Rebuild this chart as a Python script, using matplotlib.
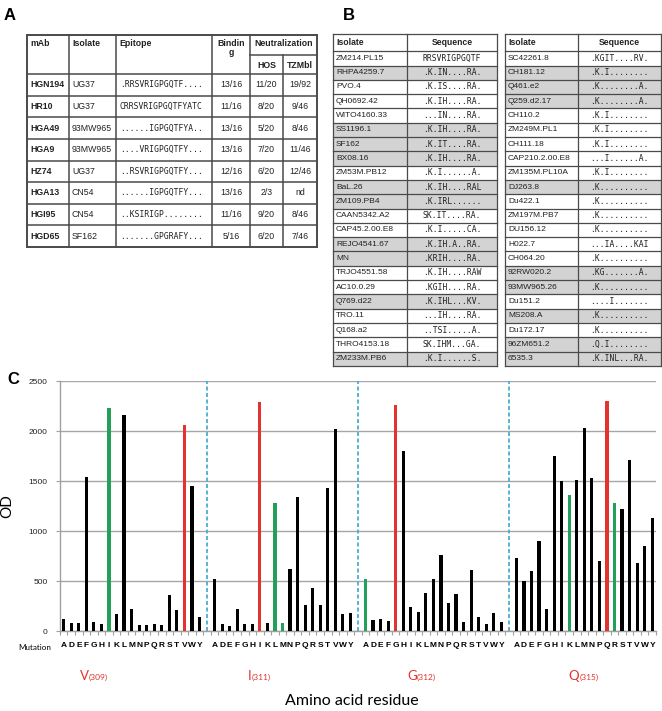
import matplotlib
matplotlib.use('Agg')
import matplotlib.pyplot as plt
from matplotlib.patches import Rectangle
import numpy as np

# ---------------- data: panel A ----------------
mabs = ['HGN194', 'HR10', 'HGA49', 'HGA9', 'HZ74', 'HGA13', 'HGI95', 'HGD65']
isolates_A = ['UG37', 'UG37', '93MW965', '93MW965', 'UG37', 'CN54', 'CN54', 'SF162']
epitopes = ['.RRSVRIGPGQTF....', 'CRRSVRIGPGQTFYATC', '......IGPGQTFYA..',
            '....VRIGPGQTFY...', '..RSVRIGPGQTFY...', '......IGPGQTFY...',
            '..KSIRIGP........', '.......GPGRAFY...']
binding = ['13/16', '11/16', '13/16', '13/16', '12/16', '13/16', '11/16', '5/16']
hos = ['11/20', '8/20', '5/20', '7/20', '6/20', '2/3', '9/20', '6/20']
tzmbl = ['19/92', '9/46', '8/46', '11/46', '12/46', 'nd', '8/46', '7/46']

# ---------------- data: panel B ----------------
isolates_B1 = ['ZM214.PL15', 'RHPA4259.7', 'PVO.4', 'QH0692.42', 'WITO4160.33', 'SS1196.1',
               'SF162', 'BX08.16', 'ZM53M.PB12', 'BaL.26', 'ZM109.PB4', 'CAAN5342.A2',
               'CAP45.2.00.E8', 'REJO4541.67', 'MN', 'TRJO4551.58', 'AC10.0.29', 'Q769.d22',
               'TRO.11', 'Q168.a2', 'THRO4153.18', 'ZM233M.PB6']
seqs_B1 = ['RRSVRIGPGQTF', '.K.IN....RA.', '.K.IS....RA.', '.K.IH....RA.', '...IN....RA.',
           '.K.IH....RA.', '.K.IT....RA.', '.K.IH....RA.', '.K.I......A.', '.K.IH....RAL',
           '.K.IRL......', 'SK.IT....RA.', '.K.I.....CA.', '.K.IH.A..RA.', '.KRIH....RA.',
           '.K.IH....RAW', '.KGIH....RA.', '.K.IHL...KV.', '...IH....RA.', '..TSI.....A.',
           'SK.IHM...GA.', '.K.I......S.']
shaded_B1 = [0, 1, 0, 0, 0, 1, 1, 1, 0, 1, 1, 0, 0, 1, 1, 0, 0, 1, 0, 0, 0, 1]

isolates_B2 = ['SC42261.8', 'CH181.12', 'Q461.e2', 'Q259.d2.17', 'CH110.2', 'ZM249M.PL1',
               'CH111.18', 'CAP210.2.00.E8', 'ZM135M.PL10A', 'DJ263.8', 'Du422.1',
               'ZM197M.PB7', 'DU156.12', 'H022.7', 'CH064.20', '92RW020.2', '93MW965.26',
               'Du151.2', 'MS208.A', 'Du172.17', '96ZM651.2', '6535.3']
seqs_B2 = ['.KGIT....RV.', '.K.I........', '.K........A.', '.K........A.', '.K.I........',
           '.K.I........', '.K.I........', '...I......A.', '.K.I........', '.K..........',
           '.K..........', '.K..........', '.K..........', '...IA....KAI', '.K..........',
           '.KG.......A.', '.K..........', '....I.......', '.K..........', '.K..........',
           '.Q.I........', '.K.INL...RA.']
shaded_B2 = [0, 1, 1, 1, 0, 0, 0, 0, 0, 1, 0, 0, 0, 0, 0, 1, 1, 0, 1, 0, 1, 1]

# ---------------- data: panel C ----------------
mutations = ['A', 'D', 'E', 'F', 'G', 'H', 'I', 'K', 'L', 'M', 'N', 'P', 'Q', 'R', 'S', 'T', 'V', 'W', 'Y']
residues = ['V', 'I', 'G', 'Q']
positions = ['(309)', '(311)', '(312)', '(315)']
od_V309 = [120, 80, 87, 1542, 93, 73, 2235, 170, 2161, 226, 63, 63, 73, 63, 360, 213, 2061, 1452, 147]
od_I311 = [526, 70, 53, 223, 70, 70, 2294, 80, 1285, 87, 619, 1342, 263, 430, 263, 1432, 2025, 173, 186]
od_G312 = [523, 110, 123, 103, 2261, 1805, 243, 193, 386, 523, 759, 286, 370, 97, 609, 147, 77, 183, 90]
od_Q315 = [729, 503, 599, 899, 223, 1752, 1502, 1359, 1515, 2031, 1535, 699, 2298, 1279, 1225, 1715, 679, 853, 1132]
green_mutations = [['I'], ['L', 'M'], ['A'], ['K', 'R']]
od_groups = [od_V309, od_I311, od_G312, od_Q315]

# ---------------- figure ----------------
W, H = 662, 711
fig = plt.figure(figsize=(W / 100, H / 100), dpi=100)

SANS = ['Liberation Sans', 'DejaVu Sans']
MONO = ['DejaVu Sans Mono']
CAL = ['Lato', 'DejaVu Sans']
TXT = '#222222'

ov = fig.add_axes([0, 0, 1, 1], zorder=5)
ov.set_xlim(0, W)
ov.set_ylim(H, 0)
ov.axis('off')

LC = '#4a4a4a'

# panel labels
ov.text(4, 15, 'A', fontsize=12, fontweight='bold', family=SANS, va='center', ha='left')
ov.text(343, 16, 'B', fontsize=12, fontweight='bold', family=SANS, va='center', ha='left')
ov.text(7, 379, 'C', fontsize=12, fontweight='bold', family=SANS, va='center', ha='left')

# ---------- Table A ----------
tx0, tx1 = 27, 317
cols = [27, 69, 116, 212, 250, 283, 317]
ty0, thead, tsub = 35, 74, 55
rh = (247 - thead) / len(mabs)
ty1 = thead + rh * len(mabs)
fsA = 6.3
ov.plot([tx0, tx1], [ty0, ty0], color=LC, lw=1.4)
ov.plot([tx0, tx1], [ty1, ty1], color=LC, lw=1.4)
for i in range(len(mabs)):
    y = thead + rh * i
    ov.plot([tx0, tx1], [y, y], color=LC, lw=1.1)
ov.plot([cols[4], cols[6]], [tsub, tsub], color=LC, lw=1.1)
for j, c in enumerate(cols):
    top = tsub if j == 5 else ty0
    lw = 1.4 if j in (0, 6) else 1.1
    ov.plot([c, c], [top, ty1], color=LC, lw=lw)
hy = 43
ov.text(30, hy, 'mAb', fontsize=fsA, fontweight='bold', family=SANS, va='center', color=TXT)
ov.text(72, hy, 'Isolate', fontsize=fsA, fontweight='bold', family=SANS, va='center', color=TXT)
ov.text(119, hy, 'Epitope', fontsize=fsA, fontweight='bold', family=SANS, va='center', color=TXT)
ov.text((cols[3] + cols[4]) / 2, hy, 'Bindin', fontsize=fsA, fontweight='bold', family=SANS, va='center', ha='center', color=TXT)
ov.text((cols[3] + cols[4]) / 2, 52.5, 'g', fontsize=fsA, fontweight='bold', family=SANS, va='center', ha='center', color=TXT)
ov.text((cols[4] + cols[6]) / 2, hy, 'Neutralization', fontsize=fsA, fontweight='bold', family=SANS, va='center', ha='center', color=TXT)
ov.text((cols[4] + cols[5]) / 2, 65, 'HOS', fontsize=fsA, fontweight='bold', family=SANS, va='center', ha='center', color=TXT)
ov.text((cols[5] + cols[6]) / 2, 65, 'TZMbl', fontsize=fsA, fontweight='bold', family=SANS, va='center', ha='center', color=TXT)
for i in range(len(mabs)):
    y = thead + rh * (i + 0.5)
    ov.text(30, y, mabs[i], fontsize=fsA, fontweight='bold', family=SANS, va='center', color=TXT)
    ov.text(72, y, isolates_A[i], fontsize=fsA, family=SANS, va='center', color=TXT)
    ov.text(120, y, epitopes[i], fontsize=5.8, family=MONO, va='center', color=TXT)
    ov.text((cols[3] + cols[4]) / 2, y, binding[i], fontsize=fsA, family=SANS, va='center', ha='center', color=TXT)
    ov.text((cols[4] + cols[5]) / 2, y, hos[i], fontsize=fsA, family=SANS, va='center', ha='center', color=TXT)
    ov.text((cols[5] + cols[6]) / 2, y, tzmbl[i], fontsize=fsA, family=SANS, va='center', ha='center', color=TXT)

# ---------- Tables B ----------
def table_B(x0, xd, x1, names, seqs, shaded):
    top = 34.3
    hb = 51.2
    r = 14.3
    n = len(names)
    bot = hb + r * n
    for i in range(n):
        y = hb + r * i
        if shaded[i]:
            ov.add_patch(Rectangle((x0, y), x1 - x0, r, facecolor='#d3d3d3', edgecolor='none', zorder=1))
    for y in [top, hb] + [hb + r * (i + 1) for i in range(n)]:
        ov.plot([x0, x1], [y, y], color=LC, lw=0.9, zorder=2)
    for x in (x0, xd, x1):
        ov.plot([x, x], [top, bot], color=LC, lw=0.9, zorder=2)
    ov.text(x0 + 3, (top + hb) / 2, 'Isolate', fontsize=6.2, fontweight='bold', family=SANS, va='center', zorder=3, color=TXT)
    ov.text((xd + x1) / 2, (top + hb) / 2, 'Sequence', fontsize=6.2, fontweight='bold', family=SANS, va='center', ha='center', zorder=3, color=TXT)
    for i in range(n):
        y = hb + r * (i + 0.5)
        ov.text(x0 + 3, y, names[i], fontsize=6.0, family=SANS, va='center', zorder=3, color=TXT)
        ov.text((xd + x1) / 2, y, seqs[i], fontsize=5.8, family=MONO, va='center', ha='center', zorder=3, color=TXT)

table_B(333, 407, 497, isolates_B1, seqs_B1, shaded_B1)
table_B(505, 578, 661, isolates_B2, seqs_B2, shaded_B2)

# ---------- Panel C bar chart ----------
nmut = len(mutations)
x_left, x_right = 59.9, 656.0
y_zero, y_top = 631.3, 381.0
ax = fig.add_axes([x_left / W, (H - y_zero) / H, (x_right - x_left) / W, (y_zero - y_top) / H], zorder=2)
nslots = 4 * nmut + 3
ax.set_xlim(-0.5, nslots - 0.5)
ax.set_ylim(0, 2500)

for g, (res, vals) in enumerate(zip(residues, od_groups)):
    base = g * (nmut + 1)
    xs = base + np.arange(nmut)
    colors = []
    for m in mutations:
        if m == res:
            colors.append('#e3322f')
        elif m in green_mutations[g]:
            colors.append('#22a05a')
        else:
            colors.append('black')
    ax.bar(xs, vals, width=0.42, color=colors, zorder=3)
    for k, m in enumerate(mutations):
        ax.text(base + k, -0.058, m, transform=ax.get_xaxis_transform(), ha='center', va='center',
                fontsize=6.0, fontweight='bold', family=SANS)
    if g < 3:
        ax.axvline(base + nmut, color='#4aaed0', lw=1.3, ls=(0, (2.2, 1.4)), zorder=4)

ax.set_yticks(np.arange(0, 2501, 500))
ax.yaxis.grid(True, color='#a6a6a6', lw=1.0, zorder=0)
ax.set_axisbelow(True)
ax.set_xticks(np.arange(-0.5, nslots, 1.0))
ax.set_xticklabels([])
ax.tick_params(axis='x', length=3, width=0.8, color='#a0a0a0', direction='out')
ax.tick_params(axis='y', length=3, width=0.8, color='#a0a0a0', labelsize=6, pad=6, labelcolor=TXT)
for lab in ax.get_yticklabels():
    lab.set_family(SANS)
for s in ('top', 'right'):
    ax.spines[s].set_visible(False)
ax.spines['left'].set_color('#a0a0a0')
ax.spines['bottom'].set_color('#a0a0a0')
ax.spines['left'].set_linewidth(1.0)
ax.spines['bottom'].set_linewidth(1.0)
ax.set_ylabel('OD', fontsize=11, family=CAL, labelpad=10)

ov.text(18, 648, 'Mutation', fontsize=5.8, family=CAL, va='center', ha='left')
label_x = [80, 248, 407, 568]
sub_dx = [9, 4, 10, 12]
for g, res in enumerate(residues):
    ov.text(label_x[g], 679.5, res, fontsize=9.5, family=CAL, color='#e3322f', va='baseline', ha='left')
    ov.text(label_x[g] + sub_dx[g], 679.5, positions[g],
            fontsize=6.0, family=CAL, color='#e3322f', va='baseline', ha='left')
ov.text(352, 705, 'Amino acid residue', fontsize=11.5, family=CAL, va='baseline', ha='center')

fig.savefig('out.png', dpi=100)
